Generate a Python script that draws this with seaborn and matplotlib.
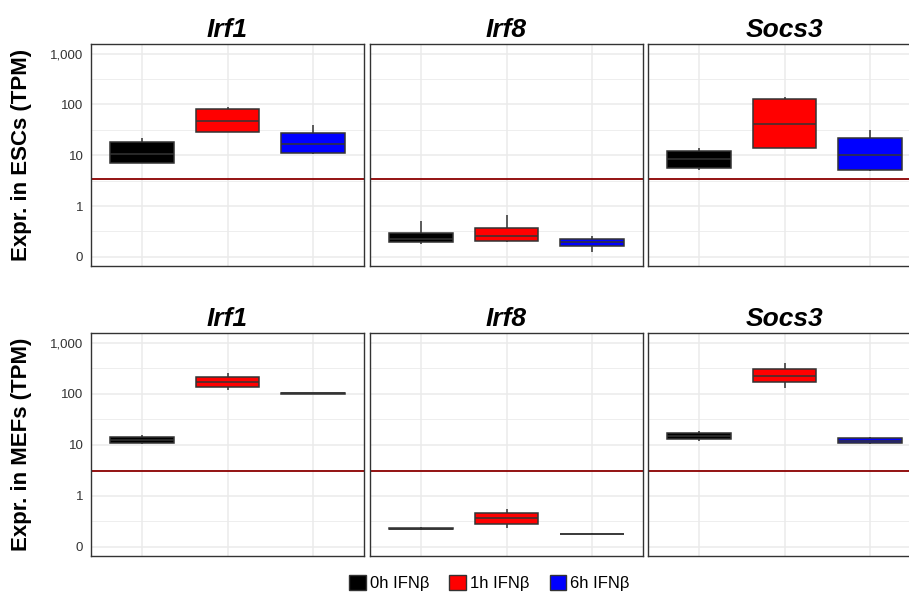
import numpy as np
import pandas as pd
import matplotlib
matplotlib.use("Agg")
import matplotlib.pyplot as plt
import seaborn as sns
from matplotlib.patches import Patch
from matplotlib.ticker import FixedLocator, NullFormatter

sns.set_theme(style="white")
plt.rcParams["font.family"] = ["Liberation Sans", "DejaVu Sans"]
plt.rcParams["text.color"] = "black"

genes = ["Irf1", "Irf8", "Socs3"]
times = ["0h IFNβ", "1h IFNβ", "6h IFNβ"]
colors = ["#000000", "#FF0000", "#0000FF"]
cells = ["ESCs", "MEFs"]
thresholds = [3.4, 3.0]
yticks = [0.1, 1, 10, 100, 1000]
ytick_labels = ["0", "1", "10", "100", "1,000"]

# five-number summaries (min, q1, median, q3, max) in TPM, one list per time point
esc_irf1 = [[6.9, 6.9, 10.8, 18.2, 22.2],
            [28.3, 28.3, 47.0, 81.0, 91.0],
            [10.5, 11.3, 16.7, 27.0, 38.7]]
esc_irf8 = [[0.177, 0.194, 0.229, 0.300, 0.508],
            [0.194, 0.209, 0.258, 0.365, 0.656],
            [0.124, 0.164, 0.194, 0.229, 0.262]]
esc_socs3 = [[5.24, 5.65, 8.36, 12.2, 13.9],
             [13.9, 13.9, 41.8, 129.0, 141.0],
             [4.85, 5.08, 10.0, 21.9, 30.9]]
mef_irf1 = [[10.3, 11.0, 12.6, 14.4, 15.5],
            [117.0, 138.0, 170.0, 217.0, 252.0],
            [100.0, 100.5, 101.5, 102.5, 103.0]]
mef_irf8 = [[0.214, 0.219, 0.228, 0.237, 0.245],
            [0.231, 0.286, 0.359, 0.457, 0.547],
            [0.180, 0.181, 0.182, 0.182, 0.183]]
mef_socs3 = [[12.1, 13.2, 15.1, 17.3, 19.0],
             [129.0, 170.0, 226.0, 307.0, 397.0],
             [10.3, 11.0, 12.0, 13.4, 14.0]]

data = {("ESCs", "Irf1"): esc_irf1, ("ESCs", "Irf8"): esc_irf8, ("ESCs", "Socs3"): esc_socs3,
        ("MEFs", "Irf1"): mef_irf1, ("MEFs", "Irf8"): mef_irf8, ("MEFs", "Socs3"): mef_socs3}

rows = []
for (cell, gene), groups in data.items():
    for t, vals in zip(times, groups):
        for v in vals:
            rows.append({"cell": cell, "gene": gene, "time": t, "tpm": v})
df = pd.DataFrame(rows)

W, H = 909, 596
fig = plt.figure(figsize=(W / 100, H / 100), dpi=100)
col_left = [91, 370, 648]
pw = 273
row_top = [44, 333]
ph = [222, 223]

for r, cell in enumerate(cells):
    for c, gene in enumerate(genes):
        ax = fig.add_axes([col_left[c] / W, 1 - (row_top[r] + ph[r]) / H, pw / W, ph[r] / H])
        sub = df[(df.cell == cell) & (df.gene == gene)]
        sns.boxplot(data=sub, x="time", y="tpm", hue="time", order=times, hue_order=times,
                    palette=colors, saturation=1, width=0.75, linecolor="#333333",
                    linewidth=1.1, whis=(0, 100), log_scale=True, legend=False, ax=ax,
                    showcaps=False)
        ax.set_axisbelow(True)
        ax.set_ylim(10 ** -1.18, 10 ** 3.19)
        ax.set_xlim(-0.6, 2.6)
        ax.yaxis.set_major_locator(FixedLocator(yticks))
        ax.yaxis.set_minor_locator(FixedLocator([10 ** -0.5, 10 ** 0.5, 10 ** 1.5, 10 ** 2.5]))
        ax.yaxis.set_minor_formatter(NullFormatter())
        ax.set_xticks([0, 1, 2])
        ax.set_xticklabels([])
        ax.grid(which="major", color="#EBEBEB", lw=1.1)
        ax.grid(which="minor", axis="y", color="#EBEBEB", lw=0.6)
        ax.tick_params(which="minor", length=0)
        ax.tick_params(axis="both", which="major", length=3.5, width=0.8, color="#333333",
                       labelsize=9.5, labelcolor="#333333", pad=2)
        if c == 0:
            ax.set_yticklabels(ytick_labels)
        else:
            ax.tick_params(axis="y", labelleft=False, length=0)
        ax.set_xlabel("")
        ax.set_ylabel("")
        for s in ax.spines.values():
            s.set_color("#333333")
            s.set_linewidth(1.0)
        ax.axhline(thresholds[r], color="#8B0000", lw=1.3, zorder=1.5)
        ax.set_title(gene, fontsize=19, fontweight="bold", fontstyle="italic", pad=5,
                     color="black")
    yc = row_top[r] + ph[r] / 2
    fig.text(22 / W, 1 - yc / H, f"Expr. in {cell} (TPM)", rotation=90, ha="center",
             va="center", fontsize=16, fontweight="bold", color="black")

handles = [Patch(facecolor=col, edgecolor="#333333", lw=1) for col in colors]
fig.legend(handles, times, loc="center", bbox_to_anchor=(489.5 / W, 1 - 583 / H), ncol=3,
           frameon=False, fontsize=12, handlelength=1.0, handleheight=1.0,
           handletextpad=0.25, columnspacing=1.2, labelcolor="black")

fig.savefig("out.png", dpi=100)
